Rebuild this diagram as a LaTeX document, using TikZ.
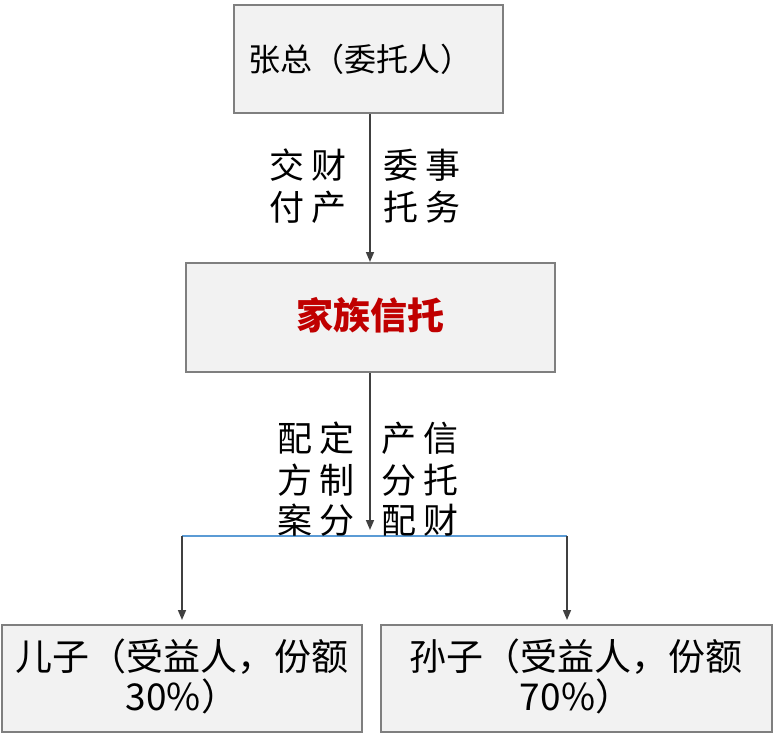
\documentclass[tikz,border=0pt]{standalone}
\usepackage{fontspec}
\setmainfont{Noto Sans CJK SC}
\usetikzlibrary{calc,arrows.meta}
\definecolor{boxfill}{HTML}{F2F2F2}
\definecolor{boxline}{HTML}{7F7F7F}
\definecolor{trustred}{HTML}{C00000}
\definecolor{lineblue}{HTML}{5B9BD5}
\tikzset{
  box/.style={draw=boxline,fill=boxfill,line width=1.5pt,inner sep=0pt},
  lbl/.style={inner sep=0pt,font=\fontsize{35}{40}\selectfont},
  arr/.style={-{Triangle[length=10pt,width=8pt]},draw=black!75,line width=1.5pt}
}
\begin{document}
\begin{tikzpicture}[x=1pt,y=-1pt]
\useasboundingbox (0,0) rectangle (775,734);
\draw[box] (234,5) rectangle (503,113); %settlor
\node[inner sep=0pt,font=\fontsize{32}{36}\selectfont] (top) at (360,59) {张总（委托人）};
\draw[box] (186,263) rectangle (555,372); %trust
\node[inner sep=0pt,font=\fontsize{37}{40}\selectfont\bfseries,text=trustred] (mid) at (370,315) {家族信托};
\draw[box] (2,625) rectangle (362,732); %son
\node[align=center,inner sep=0pt,font=\fontsize{37}{40}\selectfont] (son) at (182,676) {儿子（受益人，份额\\30\%）};
\draw[box] (381,625) rectangle (772,732); %grandson
\node[align=center,inner sep=0pt,font=\fontsize{37}{40}\selectfont] (grandson) at (576,676) {孙子（受益人，份额\\70\%）};
\coordinate (a1) at (370,114);
\coordinate (a2) at (370,262);
\coordinate (b1) at (370,373);
\coordinate (b2) at (370,530);
\coordinate (l) at (182,536);
\coordinate (r) at (567,536);
\draw[arr] (a1) -- (a2);
\draw[arr] (b1) -- (b2);
\draw[lineblue,line width=1.2pt] (l) -- (r);
\draw[arr] (l) -- (182,620);
\draw[arr] (r) -- (567,620);
\node[lbl] at (308,165) {交\ 财}; %labels
\node[lbl] at (308,207) {付\ 产};
\node[lbl] at (422,165) {委\ 事};
\node[lbl] at (422,207) {托\ 务};
\node[lbl] at (316,438) {配\ 定};
\node[lbl] at (316,480) {方\ 制};
\node[lbl] at (316,520) {案\ 分};
\node[lbl] at (420,438) {产\ 信};
\node[lbl] at (420,480) {分\ 托};
\node[lbl] at (420,520) {配\ 财};
\end{tikzpicture}
\end{document}
